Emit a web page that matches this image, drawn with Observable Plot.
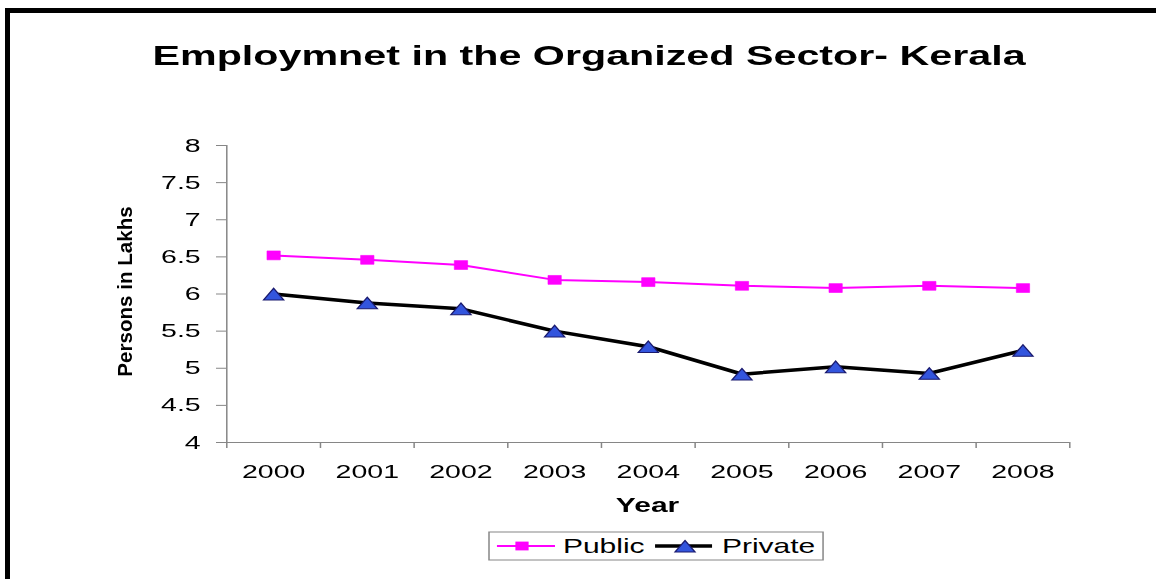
<!DOCTYPE html>
<html>
<head>
<meta charset="utf-8">
<script src="https://cdn.jsdelivr.net/npm/d3@7"></script>
<script src="https://cdn.jsdelivr.net/npm/@observablehq/plot@0.6"></script>
<style>
  html, body { margin: 0; padding: 0; background: #fff; width: 1156px; height: 579px; overflow: hidden; }
  #frame { position: absolute; left: 5px; top: 8px; width: 1300px; height: 800px;
           border-left: 5px solid #000; border-top: 5px solid #000; box-sizing: border-box; }
  #stage { position: absolute; left: 0; top: 0; width: 771px; height: 579px;
           transform: scaleX(1.5); transform-origin: 0 0;
           font-family: "Liberation Sans", Arial, sans-serif; }
  #plotbox { position: absolute; left: 0; top: 120px; }
  #overlay { position: absolute; left: 0; top: 0; pointer-events: none; overflow: visible; }
</style>
</head>
<body>
<div id="frame"></div>
<div id="stage"><div id="plotbox"></div></div>
<script>
// ---- data ----
const years = [2000, 2001, 2002, 2003, 2004, 2005, 2006, 2007, 2008];
const publicValues  = [6.52, 6.46, 6.39, 6.19, 6.16, 6.11, 6.08, 6.11, 6.08];
const privateValues = [6.00, 5.88, 5.80, 5.50, 5.29, 4.92, 5.02, 4.93, 5.24];
const seriesNames = ["Public", "Private"];
const yTicks = [4, 4.5, 5, 5.5, 6, 6.5, 7, 7.5, 8];
const titleText = "Employmnet in the Organized Sector- Kerala";
const xTitle = "Year";
const yTitle = "Persons in Lakhs";

// ---- styles ----
const gray = "#868686";
const publicColor = "#ff00ff";
const privateLine = "#000000";
const privateFill = "#3355dd";
const privateStroke = "#1a1a6e";
const font = "'Liberation Sans', Arial, sans-serif";

const publicData = years.map((y, i) => ({year: y, value: publicValues[i], series: seriesNames[0]}));
const privateData = years.map((y, i) => ({year: y, value: privateValues[i], series: seriesNames[1]}));
const boundaries = d3.range(years.length + 1).map(i => years[0] - 0.5 + i);

const chart = Plot.plot({
  width: 771,
  height: 360,
  marginLeft: 150.7,
  marginRight: 58.3,
  marginTop: 25,
  marginBottom: 38,
  style: {fontFamily: font, fontSize: "19px", background: "transparent", overflow: "visible"},
  x: {type: "linear", domain: [boundaries[0], boundaries[boundaries.length - 1]], axis: null},
  y: {domain: [yTicks[0], yTicks[yTicks.length - 1]], axis: null},
  marks: [
    Plot.ruleY([yTicks[0]], {stroke: gray, strokeWidth: 1}),
    Plot.ruleX([boundaries[0]], {stroke: gray, strokeWidth: 1}),
    Plot.axisY(yTicks, {anchor: "left", tickSize: 6.7, tickPadding: 10.7, stroke: gray, fill: "#000",
      fontSize: 19, tickFormat: d => String(d), label: null}),
    Plot.axisX(boundaries, {anchor: "bottom", tickSize: 6, tickFormat: () => "", stroke: gray, label: null}),
    Plot.axisX(years, {anchor: "bottom", tickSize: 0, tickPadding: 22, fill: "#000",
      fontSize: 19, tickFormat: d => String(d), label: null}),
    Plot.line(publicData, {x: "year", y: "value", stroke: publicColor, strokeWidth: 2}),
    Plot.dot(publicData, {x: "year", y: "value", symbol: "square", r: 5, fill: publicColor, stroke: publicColor, strokeWidth: 0.5}),
    Plot.line(privateData, {x: "year", y: "value", stroke: privateLine, strokeWidth: 3.5}),
    Plot.dot(privateData, {x: "year", y: "value", symbol: "triangle", r: 5, dy: 2, fill: privateFill, stroke: privateStroke, strokeWidth: 1})
  ]
});
document.getElementById("plotbox").appendChild(chart);

// ---- overlay: title, axis titles, legend ----
const svg = d3.select("#stage").append("svg")
  .attr("id", "overlay").attr("width", 771).attr("height", 579)
  .style("font-family", font);

svg.append("text").attr("x", 392.7).attr("y", 65).attr("text-anchor", "middle")
  .attr("font-size", 27.5).attr("font-weight", "bold").attr("fill", "#000").text(titleText);

svg.append("text").attr("x", 431.7).attr("y", 512).attr("text-anchor", "middle")
  .attr("font-size", 20).attr("font-weight", "bold").attr("fill", "#000").text(xTitle);

svg.append("text").attr("transform", "translate(83,291.5) rotate(-90) scale(1,0.68)")
  .attr("text-anchor", "middle").attr("dominant-baseline", "central")
  .attr("font-size", 20.6).attr("font-weight", "bold").attr("fill", "#000").text(yTitle);

const lg = svg.append("g");
lg.append("rect").attr("x", 326).attr("y", 532).attr("width", 222.7).attr("height", 28)
  .attr("fill", "#fff").attr("stroke", gray).attr("stroke-width", 1);
// Public
lg.append("line").attr("x1", 331.3).attr("x2", 370).attr("y1", 546).attr("y2", 546)
  .attr("stroke", publicColor).attr("stroke-width", 2);
lg.append("rect").attr("x", 343.6).attr("y", 541.6).attr("width", 8.8).attr("height", 8.8).attr("fill", publicColor);
lg.append("text").attr("x", 375.3).attr("y", 553).attr("font-size", 20).attr("fill", "#000").text(seriesNames[0]);
// Private
lg.append("line").attr("x1", 436.7).attr("x2", 474.7).attr("y1", 546).attr("y2", 546)
  .attr("stroke", privateLine).attr("stroke-width", 3.5);
lg.append("path").attr("d", "M456.7,540.5L463.4,552L450,552Z")
  .attr("fill", privateFill).attr("stroke", privateStroke).attr("stroke-width", 1);
lg.append("text").attr("x", 481.3).attr("y", 553).attr("font-size", 20).attr("fill", "#000").text(seriesNames[1]);
</script>
</body>
</html>
